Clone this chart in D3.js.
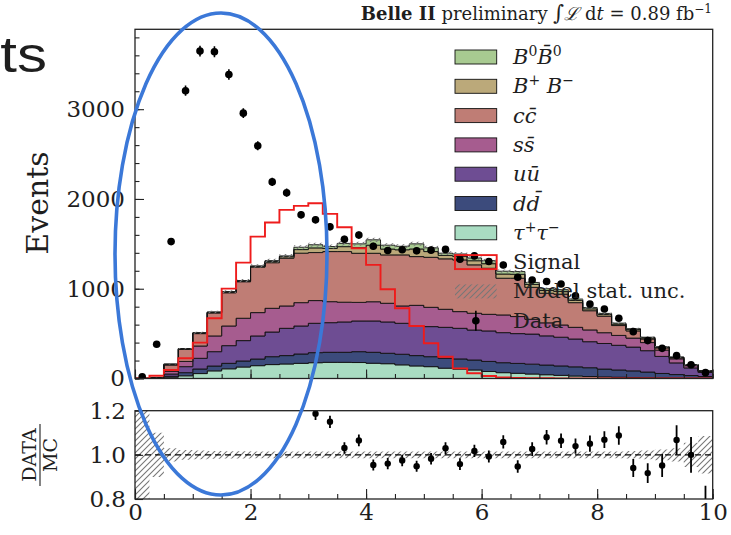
<!DOCTYPE html>
<html>
<head>
<meta charset="utf-8">
<script src="https://cdn.jsdelivr.net/npm/d3@7"></script>
<style>
  body { margin: 0; background: #fff; }
  svg { display: block; }
  text { font-family: "DejaVu Serif", serif; fill: #1e1e1e; }
</style>
</head>
<body>
<svg id="chart" width="731" height="535"></svg>
<script>
// ---- histogram binning (0 to 10 in 40 bins) ----
const binWidth = 0.25;
const nBins = 40;

// ---- MC components, events per bin (bottom of stack first) ----
const tauTau = [0,3,15,30,55,85,108,128,143,155,162,169,176,180,180,178,170,165,152,140,
                132,115,105,95,78,65,58,50,42,35,28,22,18,14,10,8,6,4,3,2];
const dDbar  = [0,2,10,35,51,54,61,67,74,88,93,104,112,112,112,121,122,116,118,115,
                111,110,113,111,112,111,110,110,108,105,102,98,87,81,75,64,50,40,30,20];
const uUbar  = [0,2,25,67,119,160,197,227,257,275,304,312,327,330,338,342,349,349,345,334,
                335,345,341,334,340,335,332,335,325,320,310,290,285,275,265,238,190,130,85,45];
const sSbar  = [0,1,30,58,137,175,219,249,260,264,249,260,253,234,220,207,214,208,193,226,
                215,201,186,187,185,197,190,165,145,136,130,131,120,110,100,90,70,45,25,12];
const cCbar  = [2,2,70,135,138,256,370,407,506,508,532,551,535,558,564,547,540,539,569,543,
                557,562,576,539,513,409,427,355,330,344,275,214,185,110,80,40,25,12,6,3];
const bPlusBMinus = [0,1,8,5,6,7,8,8,9,14,16,40,52,35,55,63,90,65,57,85,
                     64,38,40,46,51,47,44,33,30,30,24,21,18,16,15,12,7,5,3,2];
const b0B0bar = [0,1,4,3,4,4,5,4,5,9,10,26,35,21,36,42,60,43,39,57,
                 42,25,26,30,34,31,30,22,20,20,16,14,12,11,10,8,5,3,2,1];

// ---- signal template ----
const signal = [0,31,95,225,400,671,1001,1291,1581,1737,1878,1923,1953,1834,1685,1451,1266,994,782,585,
                392,243,113,58,28,13,6,3,2,1,1,0,0,0,0,0,0,0,0,0];

// ---- observed data ----
const observed = [20,381,1525,3206,3647,3640,3386,2956,2593,2190,2070,1824,1768,1690,1552,1598,1474,1426,1435,1423,
                  1430,1438,1329,1366,1303,1265,1128,1098,1080,1053,920,830,775,671,522,422,336,255,154,65];

// ---- relative MC statistical uncertainty per bin ----
const mcRelUnc = [1.0,0.1,0.03,0.022,0.02,0.018,0.016,0.016,0.015,0.015,0.015,0.015,0.015,0.015,0.015,0.015,0.015,0.015,0.015,0.015,
                  0.015,0.015,0.015,0.015,0.015,0.015,0.015,0.015,0.015,0.015,0.015,0.015,0.015,0.015,0.017,0.02,0.024,0.03,0.055,0.085];

// ---- axis ticks ----
const yTicksMain = [0, 1000, 2000, 3000];
const yMinorMain = d3.range(0, 3900, 200);
const ratioTicks = [0.8, 1.0, 1.2];
const xTicks = [0, 2, 4, 6, 8, 10];
const xMinor = d3.range(0, 10.01, 0.5);

// ---- styling ----
const keys = ["tau", "dd", "uu", "ss", "cc", "bpbm", "b0b0"];
const fillColor = {
  tau: "#a9dcc2", dd: "#3c4b7c", uu: "#6e4d93", ss: "#a65c8f",
  cc: "#bf7d75", bpbm: "#bba97a", b0b0: "#a8ca91"
};
const signalColor = "#ee1c1c";

// ---- table for the stack ----
const table = d3.range(nBins).map(i => ({
  tau: tauTau[i], dd: dDbar[i], uu: uUbar[i], ss: sSbar[i],
  cc: cCbar[i], bpbm: bPlusBMinus[i], b0b0: b0B0bar[i]
}));
const series = d3.stack().keys(keys)(table);
const mcTotal = table.map(r => keys.reduce((s, k) => s + r[k], 0));

const svg = d3.select("#chart");

// ---- scales ----
const x = d3.scaleLinear().domain([0, 10]).range([135, 712.7]);
const yMain = d3.scaleLinear().domain([0, 3890]).range([378.5, 29.3]);
const yRatio = d3.scaleLinear().domain([0.8, 1.2]).range([499, 410.7]);

const defs = svg.append("defs");
const hatch = defs.append("pattern").attr("id", "hatch")
  .attr("patternUnits", "userSpaceOnUse").attr("width", 6).attr("height", 6);
hatch.append("path").attr("d", "M-1,1 l2,-2 M0,6 l6,-6 M5,7 l2,-2")
  .attr("stroke", "#777").attr("stroke-width", 1.1);

defs.append("clipPath").attr("id", "clipMain").append("rect")
  .attr("x", x(0)).attr("y", yMain.range()[1])
  .attr("width", x(10) - x(0)).attr("height", yMain.range()[0] - yMain.range()[1]);
defs.append("clipPath").attr("id", "clipRatio").append("rect")
  .attr("x", x(0)).attr("y", yRatio.range()[1])
  .attr("width", x(10) - x(0)).attr("height", yRatio.range()[0] - yRatio.range()[1]);

// step points: each bin contributes its left and right edge
const stepPts = d3.range(nBins).flatMap(i => [[i * binWidth, i], [(i + 1) * binWidth, i]]);

// ---- main panel ----
const main = svg.append("g").attr("clip-path", "url(#clipMain)");

series.forEach(s => {
  const area = d3.area()
    .x(p => x(p[0]))
    .y0(p => yMain(s[p[1]][0]))
    .y1(p => yMain(s[p[1]][1]));
  main.append("path").attr("d", area(stepPts))
    .attr("fill", fillColor[s.key]).attr("stroke", "#111").attr("stroke-width", 0.9)
    .attr("stroke-linejoin", "miter");
});

// MC statistical band on the stack
const bandMain = d3.area()
  .x(p => x(p[0]))
  .y0(p => yMain(mcTotal[p[1]] * (1 - mcRelUnc[p[1]])))
  .y1(p => yMain(mcTotal[p[1]] * (1 + mcRelUnc[p[1]])));
main.append("path").attr("d", bandMain(stepPts)).attr("fill", "url(#hatch)");

// signal outline
const sigPts = [[0, 0], ...stepPts.map(p => [p[0], signal[p[1]]]), [10, 0]];
main.append("path")
  .attr("d", d3.line().x(p => x(p[0])).y(p => yMain(p[1]))(sigPts))
  .attr("fill", "none").attr("stroke", signalColor).attr("stroke-width", 1.9);

// data with Poisson errors
const centers = d3.range(nBins).map(i => (i + 0.5) * binWidth);
main.selectAll(".derr").data(d3.range(nBins)).join("line")
  .attr("x1", i => x(centers[i])).attr("x2", i => x(centers[i]))
  .attr("y1", i => yMain(observed[i] - Math.sqrt(observed[i])))
  .attr("y2", i => yMain(observed[i] + Math.sqrt(observed[i])))
  .attr("stroke", "#000").attr("stroke-width", 1.6);
main.selectAll(".dpt").data(d3.range(nBins)).join("circle")
  .attr("cx", i => x(centers[i])).attr("cy", i => yMain(observed[i]))
  .attr("r", 3.8).attr("fill", "#000");

// frame
svg.append("rect").attr("x", x(0)).attr("y", yMain.range()[1])
  .attr("width", x(10) - x(0)).attr("height", yMain.range()[0] - yMain.range()[1])
  .attr("fill", "none").attr("stroke", "#222").attr("stroke-width", 1.3);

// axes (inward ticks)
function styleAxis(g) {
  g.select(".domain").remove();
  g.selectAll(".tick line").attr("stroke", "#222").attr("stroke-width", 1.1);
  g.selectAll("text").attr("font-family", "DejaVu Serif").attr("font-size", 23).attr("fill", "#1e1e1e");
}
svg.append("g").attr("transform", `translate(${x(0)},0)`)
  .call(d3.axisLeft(yMain).tickValues(yMinorMain).tickSizeInner(-4.5).tickSizeOuter(0).tickFormat(""))
  .call(styleAxis);
svg.append("g").attr("transform", `translate(${x(0)},0)`)
  .call(d3.axisLeft(yMain).tickValues(yTicksMain).tickSizeInner(-9).tickSizeOuter(0).tickPadding(10).tickFormat(d3.format("d")))
  .call(styleAxis);
svg.append("g").attr("transform", `translate(0,${yMain.range()[0]})`)
  .call(d3.axisBottom(x).tickValues(xMinor).tickSizeInner(-4.5).tickSizeOuter(0).tickFormat(""))
  .call(styleAxis);
svg.append("g").attr("transform", `translate(0,${yMain.range()[0]})`)
  .call(d3.axisBottom(x).tickValues(xTicks).tickSizeInner(-9).tickSizeOuter(0).tickFormat(""))
  .call(styleAxis);

// y label
svg.append("text").attr("transform", "translate(48,203) rotate(-90)")
  .attr("text-anchor", "middle").attr("font-size", 30).text("Events");

// title
const title = svg.append("text").attr("x", 712).attr("y", 20)
  .attr("text-anchor", "end").attr("font-size", 18);
title.append("tspan").attr("font-weight", "bold").text("Belle II");
title.append("tspan").text(" preliminary ");
title.append("tspan").attr("font-size", 21).text("\u222B");
title.append("tspan").attr("font-style", "italic").text("\u2112");
title.append("tspan").text(" d");
title.append("tspan").attr("font-style", "italic").text("t");
title.append("tspan").text(" = 0.89 fb");
title.append("tspan").attr("font-size", 12).attr("dy", -7).text("\u22121");

// ---- legend ----
const legendItems = [
  { kind: "fill", key: "b0b0", label: [["B", "i"], ["0", "sup"], ["B\u0304", "i"], ["0", "sup"]] },
  { kind: "fill", key: "bpbm", label: [["B", "i"], ["+", "sup"], [" B", "i"], ["\u2212", "sup"]] },
  { kind: "fill", key: "cc",   label: [["c", "i"], ["c\u0304", "i"]] },
  { kind: "fill", key: "ss",   label: [["s", "i"], ["s\u0304", "i"]] },
  { kind: "fill", key: "uu",   label: [["u", "i"], ["u\u0304", "i"]] },
  { kind: "fill", key: "dd",   label: [["d", "i"], ["d\u0304", "i"]] },
  { kind: "fill", key: "tau",  label: [["\u03C4", "i"], ["+", "sup"], ["\u03C4", "i"], ["\u2212", "sup"]] },
  { kind: "signal", label: [["Signal", "n"]] },
  { kind: "hatch",  label: [["Model stat. unc.", "n"]] },
  { kind: "data",   label: [["Data", "n"]] }
];
const legX = 455, legW = 41.7, legH = 14, legY0 = 57, legDy = 29.3, legTextX = 513;
const legend = svg.append("g");
legendItems.forEach((it, i) => {
  const cy = legY0 + i * legDy;
  if (it.kind === "fill") {
    legend.append("rect").attr("x", legX).attr("y", cy - legH / 2).attr("width", legW).attr("height", legH)
      .attr("fill", fillColor[it.key]).attr("stroke", "#111").attr("stroke-width", 0.9);
  } else if (it.kind === "signal") {
    legend.append("rect").attr("x", legX).attr("y", cy - legH / 2).attr("width", legW).attr("height", legH)
      .attr("fill", "none").attr("stroke", signalColor).attr("stroke-width", 1.9);
  } else if (it.kind === "hatch") {
    legend.append("rect").attr("x", legX).attr("y", cy - legH / 2).attr("width", legW).attr("height", legH)
      .attr("fill", "url(#hatch)");
  } else {
    legend.append("line").attr("x1", legX + legW / 2).attr("x2", legX + legW / 2)
      .attr("y1", cy - 10).attr("y2", cy + 10).attr("stroke", "#000").attr("stroke-width", 1.6);
    legend.append("circle").attr("cx", legX + legW / 2).attr("cy", cy).attr("r", 3.8).attr("fill", "#000");
  }
  const t = legend.append("text").attr("x", legTextX).attr("y", cy + 7).attr("font-size", 21);
  it.label.forEach(([s, style]) => {
    const ts = t.append("tspan").text(s);
    if (style === "i") ts.attr("font-style", "italic");
    if (style === "sup") ts.attr("font-size", 14).attr("baseline-shift", "55%");
  });
});

// ---- ratio panel ----
const ratio = svg.append("g").attr("clip-path", "url(#clipRatio)");
const bandRatio = d3.area()
  .x(p => x(p[0]))
  .y0(p => yRatio(1 - mcRelUnc[p[1]]))
  .y1(p => yRatio(1 + mcRelUnc[p[1]]));
ratio.append("path").attr("d", bandRatio(stepPts)).attr("fill", "url(#hatch)");
ratio.append("line").attr("x1", x(0)).attr("x2", x(10)).attr("y1", yRatio(1)).attr("y2", yRatio(1))
  .attr("stroke", "#000").attr("stroke-width", 1.3).attr("stroke-dasharray", "6,4");

const ratioVal = d3.range(nBins).map(i => observed[i] / mcTotal[i]);
const ratioErr = d3.range(nBins).map(i => Math.sqrt(observed[i]) / mcTotal[i]);
ratio.selectAll(".rerr").data(d3.range(nBins)).join("line")
  .attr("x1", i => x(centers[i])).attr("x2", i => x(centers[i]))
  .attr("y1", i => yRatio(ratioVal[i] - ratioErr[i]))
  .attr("y2", i => yRatio(ratioVal[i] + ratioErr[i]))
  .attr("stroke", "#000").attr("stroke-width", 1.8);
ratio.selectAll(".rpt").data(d3.range(nBins)).join("circle")
  .attr("cx", i => x(centers[i])).attr("cy", i => yRatio(ratioVal[i]))
  .attr("r", 3.2).attr("fill", "#000");

svg.append("rect").attr("x", x(0)).attr("y", yRatio.range()[1])
  .attr("width", x(10) - x(0)).attr("height", yRatio.range()[0] - yRatio.range()[1])
  .attr("fill", "none").attr("stroke", "#222").attr("stroke-width", 1.3);

svg.append("g").attr("transform", `translate(${x(0)},0)`)
  .call(d3.axisLeft(yRatio).tickValues(ratioTicks).tickSizeInner(-8).tickSizeOuter(0).tickPadding(9).tickFormat(d3.format(".1f")))
  .call(styleAxis);
svg.append("g").attr("transform", `translate(0,${yRatio.range()[0]})`)
  .call(d3.axisBottom(x).tickValues(xMinor).tickSizeInner(-5).tickSizeOuter(0).tickFormat(""))
  .call(styleAxis);
svg.append("g").attr("transform", `translate(0,${yRatio.range()[0]})`)
  .call(d3.axisBottom(x).tickValues(xTicks).tickSizeInner(-10).tickSizeOuter(0).tickPadding(5).tickFormat(d3.format("d")))
  .call(styleAxis);

// ratio y label as a stacked fraction
const frac = svg.append("g").attr("transform", "translate(40,455) rotate(-90)");
frac.append("text").attr("x", 0).attr("y", -4).attr("text-anchor", "middle").attr("font-size", 19).text("DATA");
frac.append("line").attr("x1", -31).attr("x2", 31).attr("y1", 0).attr("y2", 0)
  .attr("stroke", "#1e1e1e").attr("stroke-width", 1.1);
frac.append("text").attr("x", 0).attr("y", 17).attr("text-anchor", "middle").attr("font-size", 19).text("MC");

// ---- slide overlay: heading fragment and highlight ring ----
svg.append("text").attr("transform", "translate(47,72) scale(1.2,1)")
  .attr("text-anchor", "end")
  .attr("font-size", 50).attr("fill", "#000").style("font-family", "'Liberation Sans', Arial, sans-serif").text("ts");
svg.append("ellipse").attr("cx", 221).attr("cy", 254).attr("rx", 106).attr("ry", 241)
  .attr("fill", "none").attr("stroke", "#3b78d8").attr("stroke-width", 3.6);
</script>
</body>
</html>
